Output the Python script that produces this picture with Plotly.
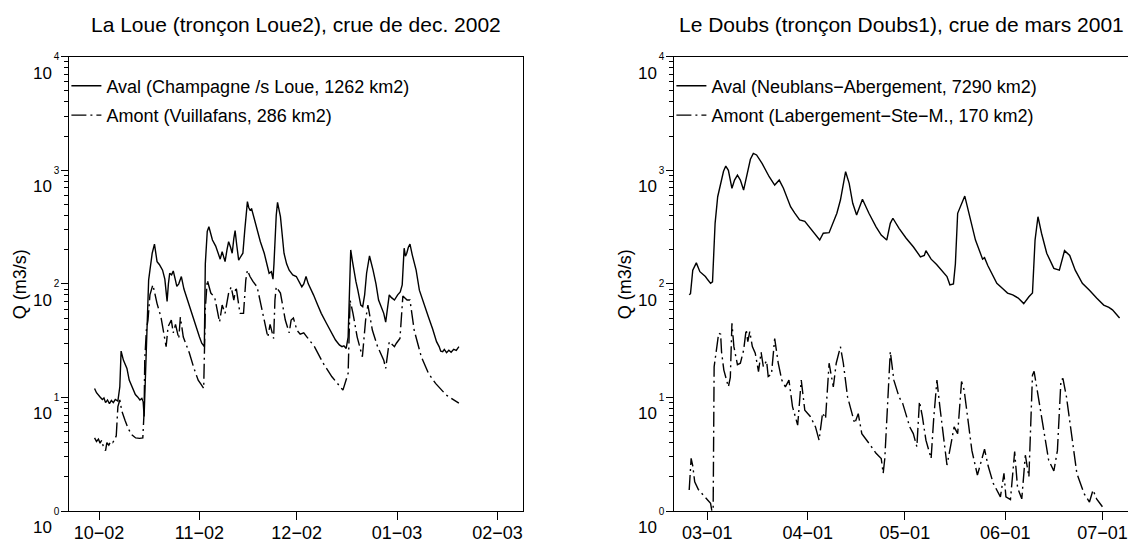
import pandas as pd
import plotly.graph_objects as go

# ---------------- data ----------------
loue_start = "2002-10-01"
loue_aval_days = [-1.4, -0.8, 0.3, 1.0, 1.5, 2.0, 2.6, 3.2, 3.8, 4.4, 5.0, 5.8, 6.4, 6.8, 7.5, 8.6, 9.3, 10.0, 10.5, 11.2,
                  11.9, 12.6, 13.2, 13.6, 13.9, 14.2, 14.4, 14.9, 15.3, 15.7, 16.4, 17.1, 17.9, 18.6, 19.6, 20.3, 21.0, 21.4,
                  21.8, 22.4, 22.9, 23.5, 24.0, 24.6, 25.4, 26.2, 27.3, 28.5, 30.1, 31.0, 31.7, 32.5, 32.8, 33.4, 33.9, 35.0,
                  36.0, 36.7, 37.4, 38.0, 38.9, 39.5, 40.0, 40.6, 41.1, 41.6, 42.0, 42.5, 43.1, 43.8, 44.4, 45.0, 45.5, 45.8,
                  46.2, 46.6, 47.1, 47.8, 48.8, 49.8, 51.0, 52.1, 52.5, 53.2, 53.7, 54.0, 54.3, 54.7, 55.1, 55.5, 56.0, 57.1,
                  57.9, 58.7, 59.8, 60.9, 61.8, 62.6, 63.2, 63.9, 64.6, 65.3, 66.2, 67.4, 68.6, 70.2, 71.9, 73.0, 74.2, 75.0,
                  75.6, 76.3, 76.9, 77.3, 77.7, 78.2, 78.6, 79.3, 79.9, 80.8, 81.4, 82.0, 82.6, 83.5, 84.6, 85.5, 86.3, 87.2,
                  87.9, 88.5, 89.0, 89.6, 90.2, 91.2, 92.2, 93.0, 93.6, 94.0, 94.2, 94.6, 95.0, 95.5, 96.0, 96.7, 97.9, 98.9,
                  100.0, 101.7, 103.0, 104.2, 105.0, 105.5, 106.1, 106.6, 107.3, 108.0, 108.7, 109.5, 110.3, 111.1]
loue_aval_q = [12.0, 11.0, 10.1, 9.6, 9.9, 9.0, 9.5, 8.8, 9.4, 9.0, 9.6, 9.3, 12.4, 25.6, 21.3, 18.0, 14.2, 12.8, 11.7, 10.6,
               10.1, 9.5, 9.8, 9.2, 6.8, 12.0, 24, 48, 108, 132, 186, 224, 157, 148, 132, 110, 70, 100,
               124, 120, 130, 110, 95, 100, 116, 90, 72, 55, 39, 34, 30, 28, 150, 290, 318, 243,
               215, 186, 165, 192, 157, 200, 235, 210, 186, 250, 294, 220, 162, 175, 186, 300, 478, 529,
               470, 447, 457, 380, 298, 235, 186, 132, 124, 128, 110, 150, 243, 400, 522, 470, 390, 186,
               150, 132, 120, 116, 105, 94, 100, 116, 100, 91, 80, 66, 55, 45, 36.7, 32, 29, 28,
               28.5, 27, 34, 90, 199, 160, 132, 105, 88, 65, 63, 80, 124, 176, 132, 100, 72, 62,
               55, 46, 60, 80, 76, 72, 80, 85, 98, 190, 206, 175, 186, 210, 224, 180, 132, 88,
               70, 51, 40, 31, 28, 25.5, 25.3, 26.5, 24.8, 26, 25, 26.5, 26, 28]

loue_amont_days = [-1.4, -0.8, -0.2, 0.3, 0.8, 1.3, 2.0, 2.4, 3.0, 3.6, 4.2, 4.7, 5.3, 5.8, 6.4, 7.0, 8.0, 9.0, 10.2, 11.3,
                   12.5, 13.5, 13.9, 14.1, 14.6, 15.1, 15.7, 16.6, 17.1, 17.9, 19.1, 20.0, 20.7, 21.3, 22.3, 22.9, 23.6, 24.6,
                   25.1, 26.0, 27.9, 29.3, 30.6, 31.5, 32.3, 32.8, 33.4, 34.5, 35.7, 37.2, 38.0, 38.9, 40.0, 40.8, 41.6, 42.3,
                   43.5, 44.6, 45.3, 45.8, 46.6, 47.5, 48.8, 50.0, 51.0, 52.1, 52.8, 53.9, 54.3, 54.7, 56.0, 57.5, 58.7, 59.3,
                   60.0, 61.1, 62.1, 63.2, 64.2, 66.5, 69.2, 71.9, 75.3, 76.9, 77.5, 78.4, 79.7, 81.3, 82.3, 83.0, 84.4, 86.0,
                   87.9, 88.5, 89.6, 91.2, 91.8, 92.9, 93.8, 95.1, 96.0, 97.3, 99.5, 101.7, 103.9, 107.2, 111.1]
loue_amont_q = [4.4, 4.1, 4.3, 3.95, 4.2, 3.7, 3.4, 4.0, 3.8, 4.1, 4.0, 4.2, 4.6, 8.3, 9.5, 7.6, 6.3, 5.3, 4.67, 4.4,
                4.36, 4.4, 7.5, 21.3, 39, 48, 80, 98, 85, 67, 51, 38, 28, 42, 48, 37, 44, 33,
                51, 34, 24.5, 18, 14.2, 13, 12.0, 60, 108, 83, 76, 46, 65, 55, 83, 94, 72, 94,
                55, 55, 108, 132, 116, 105, 94, 65, 48, 34, 44, 33, 72, 94, 83, 48, 37, 48,
                50, 39, 36, 37, 34, 28, 20, 15.2, 11.6, 16.3, 72, 55, 34, 22.8, 48, 65, 39, 28,
                21.3, 18, 31, 28, 30, 33, 78, 72, 72, 39, 22.8, 16.3, 13.3, 10.5, 8.9]

doubs_start = "2001-03-01"
doubs_aval_days = [-5.6, -5.2, -4.5, -3.4, -2.3, -1.4, -0.6, 0.2, 1.0, 1.6, 2.4, 3.2, 4.3, 5.0, 5.7, 6.5, 7.6, 8.4, 9.3, 10.2,
                   11.2, 12.5, 13.3, 14.2, 15.2, 16.9, 19.1, 20.8, 22.2, 23.5, 25.7, 27.0, 28.5, 30.1, 32.3, 34.7, 35.8, 37.6,
                   40.0, 41.1, 42.7, 43.8, 44.9, 46.1, 47.9, 49.9, 52.1, 53.7, 55.4, 56.5, 57.3, 59.2, 61.4, 63.6, 65.8, 67.0,
                   67.5, 69.1, 70.8, 72.4, 74.0, 74.9, 76.0, 76.6, 77.3, 79.5, 81.2, 82.8, 85.0, 85.6, 86.6, 88.3, 89.4, 91.0,
                   92.7, 94.3, 96.0, 97.7, 98.5, 99.3, 100.4, 101.2, 102.1, 103.2, 104.8, 107.0, 108.7, 110.3, 111.9, 113.6,
                   115.8, 118.0, 120.2, 122.4, 124.0, 125.1, 126.3, 127.3]
doubs_aval_q = [80, 82, 132, 153, 128, 122, 116, 108, 101, 104, 341, 585, 820, 980, 1090, 1000, 694, 820, 908, 820,
                670, 1000, 1250, 1410, 1364, 1151, 877, 741, 820, 694, 478, 420, 365, 355, 298, 243, 279, 282,
                418, 547, 971, 768, 512, 404, 555, 418, 318, 269, 243, 341, 378, 308, 252, 212, 173, 178,
                196, 165, 148, 132, 116, 98, 100, 150, 418, 593, 365, 243, 165, 170, 145, 116, 101, 92,
                83, 80, 75, 67, 72, 77, 83, 243, 390, 279, 186, 137, 132, 196, 178, 132,
                101, 88, 75, 65, 62, 59, 54, 50]

doubs_amont_days = [-5.6, -5.0, -4.5, -3.9, -2.8, -1.7, -0.1, 1.0, 1.4, 1.8, 2.1, 2.6, 3.5, 4.1, 4.4, 5.1, 6.5, 7.1, 7.6, 8.2,
                    9.3, 10.2, 11.2, 12.0, 12.5, 13.1, 13.9, 14.8, 15.8, 16.6, 17.3, 18.3, 18.8, 19.8, 20.8, 21.9, 23.0, 24.1,
                    25.2, 26.3, 27.9, 29.0, 30.1, 31.8, 33.4, 34.5, 35.6, 36.5, 37.6, 38.9, 39.8, 41.1, 42.0, 43.3, 45.5, 46.6,
                    47.7, 49.9, 52.1, 53.7, 54.3, 54.8, 55.9, 56.5, 57.6, 59.2, 60.3, 62.5, 63.6, 64.7, 65.5, 66.4, 67.5, 69.1,
                    69.9, 70.9, 71.8, 72.9, 74.0, 75.1, 76.2, 77.3, 78.5, 79.3, 80.6, 81.7, 83.4, 85.6, 86.7, 88.3, 90.5, 91.6,
                    92.2, 93.6, 94.9, 95.8, 97.1, 98.2, 99.3, 100.4, 100.9, 102.0, 103.7, 105.4, 107.0, 108.1, 109.2, 109.8,
                    110.9, 112.5, 114.1, 116.3, 118.0, 119.1, 120.2, 122.0]
doubs_amont_q = [1.53, 2.91, 2.5, 1.81, 1.55, 1.43, 1.29, 1.17, 1.0, 1.05, 18.6, 24.5, 36.7, 36, 25, 17.4, 12.4, 15, 45, 28,
                 19.4, 20, 26, 39.6, 31, 38, 28, 24.5, 16.9, 25, 18.6, 21, 15.3, 16, 33, 20, 14.2, 12.4,
                 14.2, 8.3, 5.7, 14.2, 7.7, 6.8, 5.5, 4.2, 7.3, 6.5, 20, 12.4, 20, 28, 20, 10.1, 5.9, 7.2,
                 4.8, 3.95, 3.22, 2.9, 2.15, 2.9, 14.2, 25.3, 14.2, 10.1, 8.9, 5.5, 4.8, 3.68, 9.2, 6.8, 4.2, 2.9,
                 6.5, 14.2, 8.3, 4.5, 2.54, 3.7, 5.5, 4.8, 13.8, 11.6, 5.9, 3.4, 2.07, 3.5, 2.5, 1.75, 1.33, 2.15,
                 1.33, 1.26, 3.33, 1.6, 1.28, 3.1, 2.0, 15.7, 17, 10.9, 5.5, 2.8, 2.25, 3.4, 14.2, 14.7,
                 10.1, 4.8, 2.15, 1.43, 1.2, 1.53, 1.28, 1.09]

loue_tick_dates = ["2002-10-01", "2002-11-01", "2002-12-01", "2003-01-01", "2003-02-01"]
loue_tick_labels = ["10\u221202", "11\u221202", "12\u221202", "01\u221203", "02\u221203"]
doubs_tick_dates = ["2001-03-01", "2001-04-01", "2001-05-01", "2001-06-01", "2001-07-01"]
doubs_tick_labels = ["03\u221201", "04\u221201", "05\u221201", "06\u221201", "07\u221201"]

y_tick_vals = [1, 10, 100, 1000, 10000]
y_tick_base = ["10", "10", "10", "10", "10"]
y_tick_exp = ["0", "1", "2", "3", "4"]

titles = ["La Loue (tronçon Loue2), crue de dec. 2002", "Le Doubs (tronçon Doubs1), crue de mars 2001"]
names_loue = ["Aval (Champagne /s Loue, 1262 km2)", "Amont (Vuillafans, 286 km2)"]
names_doubs = ["Aval (Neublans\u2212Abergement, 7290 km2)", "Amont (Labergement\u2212Ste\u2212M., 170 km2)"]


def to_dates(start, days):
    return pd.Timestamp(start) + pd.to_timedelta(days, unit="D")


FONT = "Liberation Sans, Arial, Helvetica, sans-serif"
W, H = 1128, 543
DASH = "15px,4px,2px,4px"

fig = go.Figure()
fig.add_trace(go.Scatter(x=to_dates(loue_start, loue_aval_days), y=loue_aval_q, mode="lines",
                         line=dict(color="black", width=1.4), name=names_loue[0],
                         xaxis="x", yaxis="y", legend="legend", legendgroup="a1"))
fig.add_trace(go.Scatter(x=to_dates(loue_start, loue_amont_days), y=loue_amont_q, mode="lines",
                         line=dict(color="black", width=1.4, dash=DASH), name=names_loue[1],
                         xaxis="x", yaxis="y", legend="legend", legendgroup="a2"))
fig.add_trace(go.Scatter(x=to_dates(doubs_start, doubs_aval_days), y=doubs_aval_q, mode="lines",
                         line=dict(color="black", width=1.4), name=names_doubs[0],
                         xaxis="x2", yaxis="y2", legend="legend2", legendgroup="b1"))
fig.add_trace(go.Scatter(x=to_dates(doubs_start, doubs_amont_days), y=doubs_amont_q, mode="lines",
                         line=dict(color="black", width=1.4, dash=DASH), name=names_doubs[1],
                         xaxis="x2", yaxis="y2", legend="legend2", legendgroup="b2"))
# empty traces so that the exponent (overlay) axes exist
fig.add_trace(go.Scatter(x=[], y=[], xaxis="x", yaxis="y3", showlegend=False, hoverinfo="skip"))
fig.add_trace(go.Scatter(x=[], y=[], xaxis="x2", yaxis="y4", showlegend=False, hoverinfo="skip"))

left_dom = [69.3 / W, 523 / W]
right_dom = [674.3 / W, 1.0]
y_dom = [32 / H, (H - 56.7) / H]


def xax(dom, anchor, rng, tv, tt):
    return dict(domain=dom, anchor=anchor, type="date", range=rng, tickvals=tv, ticktext=tt,
                tickfont=dict(family=FONT, size=18, color="black"), ticks="outside", ticklen=8,
                tickcolor="black", tickwidth=1, ticklabelstandoff=-3, showline=True, linecolor="black",
                linewidth=1, mirror=True, showgrid=False, zeroline=False, automargin=False)


def yax(anchor, mirror):
    return dict(domain=y_dom, anchor=anchor, type="log", range=[0, 4], tickvals=y_tick_vals,
                ticktext=y_tick_base, tickfont=dict(family=FONT, size=17, color="black"),
                ticks="outside", ticklen=7, tickcolor="black", tickwidth=1, ticklabelshift=16,
                ticklabelstandoff=6, showline=True, linecolor="black", linewidth=1, mirror=mirror,
                showgrid=False, zeroline=False, automargin=False,
                minor=dict(ticks="outside", ticklen=4, tickcolor="black", tickwidth=1, dtick="D1",
                           showgrid=False))


def yexp(overlay, anchor):
    return dict(overlaying=overlay, anchor=anchor, side="left", type="log", range=[0, 4],
                tickvals=y_tick_vals, ticktext=y_tick_exp,
                tickfont=dict(family=FONT, size=10, color="black"), ticks="outside", ticklen=7,
                tickcolor="black", showline=False, showgrid=False, zeroline=False, automargin=False)


def rng(start, a, b):
    s = pd.Timestamp(start)
    return [s + pd.Timedelta(days=a), s + pd.Timedelta(days=b)]


fig.update_layout(
    width=W, height=H, margin=dict(l=0, r=0, t=0, b=0),
    paper_bgcolor="white", plot_bgcolor="white",
    font=dict(family=FONT, size=18, color="black"),
    xaxis=xax(left_dom, "y", rng(loue_start, -9.2, 130.9), loue_tick_dates, loue_tick_labels),
    xaxis2=xax(right_dom, "y2", rng(doubs_start, -10.2, 129.9), doubs_tick_dates, doubs_tick_labels),
    yaxis=yax("x", True),
    yaxis2=yax("x2", False),
    yaxis3=yexp("y", "x"),
    yaxis4=yexp("y2", "x2"),
    legend=dict(x=66.4 / W, y=1 - 67.5 / H, xanchor="left", yanchor="top", bgcolor="rgba(0,0,0,0)",
                font=dict(family=FONT, size=18, color="black"), traceorder="grouped", tracegroupgap=3),
    legend2=dict(x=671.4 / W, y=1 - 67.5 / H, xanchor="left", yanchor="top", bgcolor="rgba(0,0,0,0)",
                 font=dict(family=FONT, size=18, color="black"), traceorder="grouped", tracegroupgap=3),
    showlegend=True,
)

annotations = []
for i, ref in enumerate(["x", "x2"]):
    annotations.append(dict(text=titles[i], xref=f"{ref} domain", x=0.5, yref="paper", y=1 - 24.6 / H,
                            xanchor="center", yanchor="middle", showarrow=False,
                            font=dict(family=FONT, size=21, color="black")))
    annotations.append(dict(text="Q (m3/s)", xref=f"{ref} domain", x=-49 / 453.7, yref="paper",
                            y=(y_dom[0] + y_dom[1]) / 2, xanchor="center", yanchor="middle",
                            textangle=-90, showarrow=False, font=dict(family=FONT, size=18, color="black")))
fig.update_layout(annotations=annotations)

fig.write_html("out.html", config={"displayModeBar": False},
               post_script="document.body.style.margin='0px';document.body.style.overflow='hidden';")
